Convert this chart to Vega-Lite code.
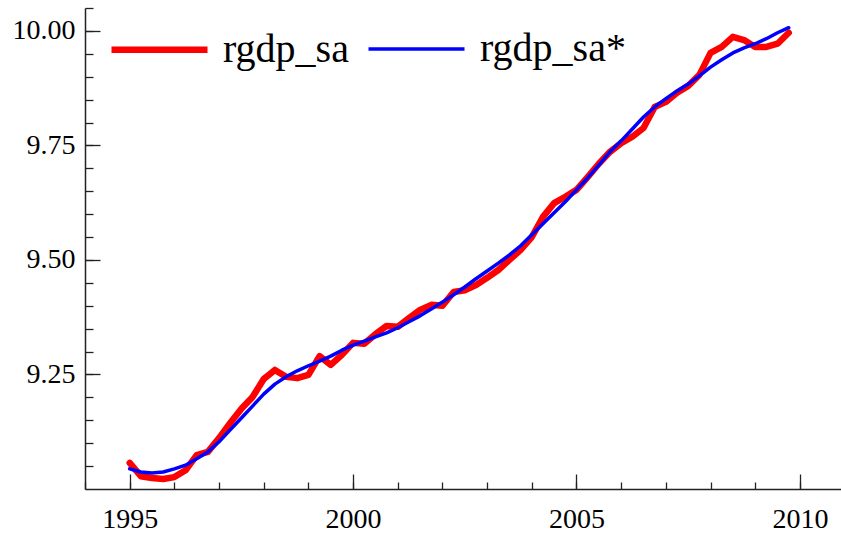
{
  "$schema": "https://vega.github.io/schema/vega-lite/v6.json",
  "width": 756,
  "height": 481,
  "autosize": {"type": "none"},
  "padding": {"left": 85, "top": 8, "right": 0, "bottom": 45},
  "background": "white",
  "config": {
    "view": {"stroke": null},
    "font": "Liberation Serif",
    "style": {"guide-label": {"font": "Liberation Serif", "fill": "black"}},
    "axis": {
      "grid": false,
      "domainColor": "#222222",
      "domainWidth": 1.5,
      "tickColor": "#222222",
      "tickWidth": 1.3,
      "labelFont": "Liberation Serif",
      "labelFontSize": 28,
      "labelColor": "black",
      "title": null
    }
  },
  "data": {
    "values": [
      {"t": 1995.00, "rgdp_sa": 9.057, "rgdp_sa*": 9.044},
      {"t": 1995.25, "rgdp_sa": 9.028, "rgdp_sa*": 9.037},
      {"t": 1995.50, "rgdp_sa": 9.024, "rgdp_sa*": 9.035},
      {"t": 1995.75, "rgdp_sa": 9.022, "rgdp_sa*": 9.037},
      {"t": 1996.00, "rgdp_sa": 9.026, "rgdp_sa*": 9.044},
      {"t": 1996.25, "rgdp_sa": 9.041, "rgdp_sa*": 9.052},
      {"t": 1996.50, "rgdp_sa": 9.074, "rgdp_sa*": 9.066},
      {"t": 1996.75, "rgdp_sa": 9.081, "rgdp_sa*": 9.081},
      {"t": 1997.00, "rgdp_sa": 9.111, "rgdp_sa*": 9.103},
      {"t": 1997.25, "rgdp_sa": 9.144, "rgdp_sa*": 9.129},
      {"t": 1997.50, "rgdp_sa": 9.175, "rgdp_sa*": 9.155},
      {"t": 1997.75, "rgdp_sa": 9.201, "rgdp_sa*": 9.181},
      {"t": 1998.00, "rgdp_sa": 9.240, "rgdp_sa*": 9.207},
      {"t": 1998.25, "rgdp_sa": 9.260, "rgdp_sa*": 9.229},
      {"t": 1998.50, "rgdp_sa": 9.245, "rgdp_sa*": 9.245},
      {"t": 1998.75, "rgdp_sa": 9.242, "rgdp_sa*": 9.258},
      {"t": 1999.00, "rgdp_sa": 9.249, "rgdp_sa*": 9.269},
      {"t": 1999.25, "rgdp_sa": 9.290, "rgdp_sa*": 9.279},
      {"t": 1999.50, "rgdp_sa": 9.271, "rgdp_sa*": 9.290},
      {"t": 1999.75, "rgdp_sa": 9.293, "rgdp_sa*": 9.303},
      {"t": 2000.00, "rgdp_sa": 9.319, "rgdp_sa*": 9.314},
      {"t": 2000.25, "rgdp_sa": 9.317, "rgdp_sa*": 9.323},
      {"t": 2000.50, "rgdp_sa": 9.338, "rgdp_sa*": 9.332},
      {"t": 2000.75, "rgdp_sa": 9.356, "rgdp_sa*": 9.341},
      {"t": 2001.00, "rgdp_sa": 9.354, "rgdp_sa*": 9.352},
      {"t": 2001.25, "rgdp_sa": 9.373, "rgdp_sa*": 9.365},
      {"t": 2001.50, "rgdp_sa": 9.391, "rgdp_sa*": 9.378},
      {"t": 2001.75, "rgdp_sa": 9.402, "rgdp_sa*": 9.393},
      {"t": 2002.00, "rgdp_sa": 9.400, "rgdp_sa*": 9.408},
      {"t": 2002.25, "rgdp_sa": 9.430, "rgdp_sa*": 9.424},
      {"t": 2002.50, "rgdp_sa": 9.434, "rgdp_sa*": 9.441},
      {"t": 2002.75, "rgdp_sa": 9.445, "rgdp_sa*": 9.459},
      {"t": 2003.00, "rgdp_sa": 9.461, "rgdp_sa*": 9.476},
      {"t": 2003.25, "rgdp_sa": 9.478, "rgdp_sa*": 9.493},
      {"t": 2003.50, "rgdp_sa": 9.500, "rgdp_sa*": 9.511},
      {"t": 2003.75, "rgdp_sa": 9.522, "rgdp_sa*": 9.531},
      {"t": 2004.00, "rgdp_sa": 9.550, "rgdp_sa*": 9.555},
      {"t": 2004.25, "rgdp_sa": 9.594, "rgdp_sa*": 9.579},
      {"t": 2004.50, "rgdp_sa": 9.624, "rgdp_sa*": 9.603},
      {"t": 2004.75, "rgdp_sa": 9.638, "rgdp_sa*": 9.627},
      {"t": 2005.00, "rgdp_sa": 9.653, "rgdp_sa*": 9.653},
      {"t": 2005.25, "rgdp_sa": 9.681, "rgdp_sa*": 9.679},
      {"t": 2005.50, "rgdp_sa": 9.710, "rgdp_sa*": 9.707},
      {"t": 2005.75, "rgdp_sa": 9.736, "rgdp_sa*": 9.736},
      {"t": 2006.00, "rgdp_sa": 9.755, "rgdp_sa*": 9.760},
      {"t": 2006.25, "rgdp_sa": 9.769, "rgdp_sa*": 9.786},
      {"t": 2006.50, "rgdp_sa": 9.788, "rgdp_sa*": 9.812},
      {"t": 2006.75, "rgdp_sa": 9.834, "rgdp_sa*": 9.834},
      {"t": 2007.00, "rgdp_sa": 9.845, "rgdp_sa*": 9.852},
      {"t": 2007.25, "rgdp_sa": 9.865, "rgdp_sa*": 9.869},
      {"t": 2007.50, "rgdp_sa": 9.880, "rgdp_sa*": 9.884},
      {"t": 2007.75, "rgdp_sa": 9.904, "rgdp_sa*": 9.902},
      {"t": 2008.00, "rgdp_sa": 9.952, "rgdp_sa*": 9.921},
      {"t": 2008.25, "rgdp_sa": 9.965, "rgdp_sa*": 9.937},
      {"t": 2008.50, "rgdp_sa": 9.987, "rgdp_sa*": 9.952},
      {"t": 2008.75, "rgdp_sa": 9.980, "rgdp_sa*": 9.963},
      {"t": 2009.00, "rgdp_sa": 9.965, "rgdp_sa*": 9.972},
      {"t": 2009.25, "rgdp_sa": 9.965, "rgdp_sa*": 9.983},
      {"t": 2009.50, "rgdp_sa": 9.972, "rgdp_sa*": 9.996},
      {"t": 2009.75, "rgdp_sa": 9.996, "rgdp_sa*": 10.007}
    ]
  },
  "transform": [{"fold": ["rgdp_sa", "rgdp_sa*"], "as": ["series", "value"]}],
  "layer": [
    {
      "transform": [{"filter": "datum.series === 'rgdp_sa'"}],
      "mark": {"type": "line", "strokeCap": "round", "strokeJoin": "round"},
      "encoding": {
        "x": {
          "field": "t", "type": "quantitative",
          "scale": {"domain": [1994, 2010.92], "nice": false, "zero": false},
          "axis": {"orient": "bottom", "values": [1994, 1995, 1996, 1997, 1998, 1999, 2000, 2001, 2002, 2003, 2004, 2005, 2006, 2007, 2008, 2009, 2010], "tickSize": -7, "labels": false, "domain": true, "title": null}
        },
        "y": {
          "field": "value", "type": "quantitative",
          "scale": {"domain": [9.0, 10.05], "nice": false, "zero": false},
          "axis": {"orient": "left", "values": [9.05, 9.1, 9.15, 9.2, 9.25, 9.3, 9.35, 9.4, 9.45, 9.5, 9.55, 9.6, 9.65, 9.7, 9.75, 9.8, 9.85, 9.9, 9.95, 10.0, 10.05], "tickSize": -8, "labels": false, "domain": true, "title": null}
        },
        "color": {
          "field": "series", "type": "nominal",
          "scale": {"domain": ["rgdp_sa", "rgdp_sa*"], "range": ["#ff0000", "#0000ff"]},
          "legend": {"orient": "none", "legendX": 23, "legendY": -10, "direction": "horizontal", "columns": 2, "title": null, "symbolType": "stroke", "symbolSize": 9216, "labelFontSize": 40, "labelFont": "Liberation Serif", "labelColor": "black", "labelOffset": 12, "columnPadding": 12, "padding": 0}
        },
        "strokeWidth": {
          "field": "series", "type": "nominal",
          "scale": {"domain": ["rgdp_sa", "rgdp_sa*"], "range": [6.5, 3.5]},
          "legend": {"orient": "none", "legendX": 23, "legendY": -10, "direction": "horizontal", "columns": 2, "title": null, "symbolType": "stroke", "symbolSize": 9216, "labelFontSize": 40, "labelFont": "Liberation Serif", "labelColor": "black", "labelOffset": 12, "columnPadding": 12, "padding": 0}
        }
      }
    },
    {
      "transform": [{"filter": "datum.series === 'rgdp_sa*'"}],
      "mark": {"type": "line", "strokeCap": "round", "strokeJoin": "round"},
      "encoding": {
        "x": {
          "field": "t", "type": "quantitative",
          "scale": {"domain": [1994, 2010.92], "nice": false, "zero": false},
          "axis": {"orient": "bottom", "values": [1995, 2000, 2005, 2010], "format": "d", "tickSize": -15, "labelPadding": 31, "labelFlush": false, "labelOverlap": false, "domain": false, "title": null, "labelFont": "Liberation Serif", "labelFontSize": 28, "labelColor": "black", "encode": {"labels": {"update": {"font": {"value": "Liberation Serif"}}}}}
        },
        "y": {
          "field": "value", "type": "quantitative",
          "scale": {"domain": [9.0, 10.05], "nice": false, "zero": false},
          "axis": {"orient": "left", "values": [9.25, 9.5, 9.75, 10.0], "format": ".2f", "tickSize": -15, "labelPadding": 25, "labelFlush": false, "labelOverlap": false, "domain": false, "title": null, "labelFont": "Liberation Serif", "labelFontSize": 28, "labelColor": "black", "encode": {"labels": {"update": {"font": {"value": "Liberation Serif"}}}}}
        },
        "color": {
          "field": "series", "type": "nominal",
          "scale": {"domain": ["rgdp_sa", "rgdp_sa*"], "range": ["#ff0000", "#0000ff"]},
          "legend": {"orient": "none", "legendX": 23, "legendY": -10, "direction": "horizontal", "columns": 2, "title": null, "symbolType": "stroke", "symbolSize": 9216, "labelFontSize": 40, "labelFont": "Liberation Serif", "labelColor": "black", "labelOffset": 12, "columnPadding": 12, "padding": 0}
        },
        "strokeWidth": {
          "field": "series", "type": "nominal",
          "scale": {"domain": ["rgdp_sa", "rgdp_sa*"], "range": [6.5, 3.5]},
          "legend": {"orient": "none", "legendX": 23, "legendY": -10, "direction": "horizontal", "columns": 2, "title": null, "symbolType": "stroke", "symbolSize": 9216, "labelFontSize": 40, "labelFont": "Liberation Serif", "labelColor": "black", "labelOffset": 12, "columnPadding": 12, "padding": 0}
        }
      }
    }
  ],
  "resolve": {"axis": {"x": "independent", "y": "independent"}}
}
